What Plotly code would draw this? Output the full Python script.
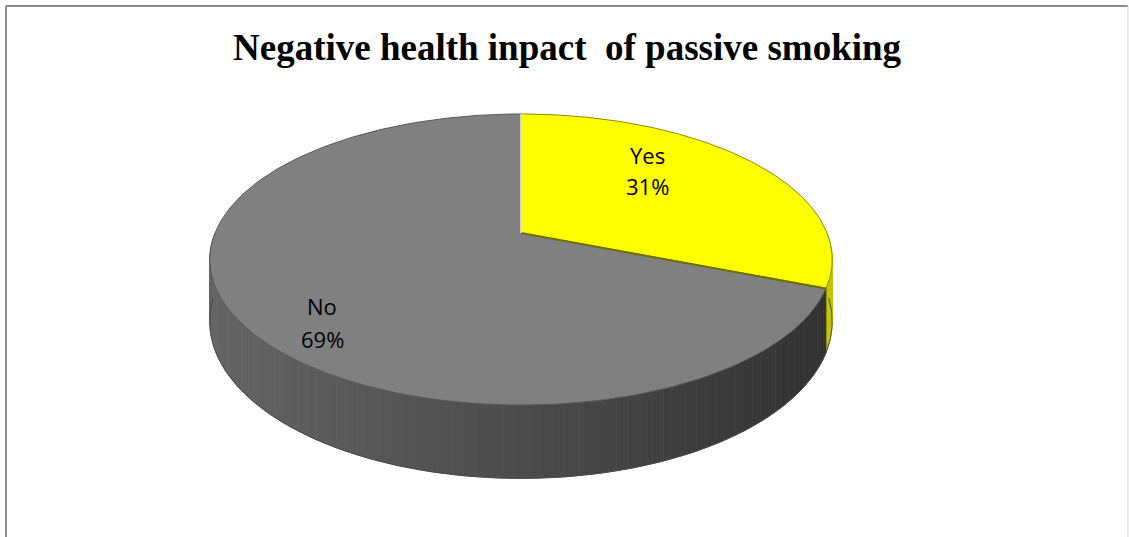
import numpy as np
import plotly.graph_objects as go

# ---- data ----
labels = ["Yes", "No"]
values = [31, 69]
top_colors = ["#ffff00", "#808080"]
title_text = "Negative health inpact  of passive smoking"

# ---- layout / projection constants (pixel-like axes) ----
W, H = 1129, 537
CX, CY = 521, 233            # projected pie centre
A, B, K = 306, 140.7, 0.182  # perspective ellipse parameters
DEPTH = 60
# (x, y of name line, y of percent line)
label_pos = [(647, 155, 186), (322, 306, 339)]


def proj(theta_deg, r=1.0):
    t = np.radians(theta_deg)
    u = r * np.sin(t)
    v = r * np.cos(t)
    w = 1 + K * v
    return CX + A * u / w, CY - B * v / w, w


def side_color(idx, x):
    if idx == 0:
        return "#c4c400"
    t = (x - (CX - A)) / (2 * A)
    t = min(max(t, 0), 1)
    g = int(round(100 - 50 * t))
    return f"rgb({g},{g},{g})"


total = sum(values)
bounds = [0.0]
for v in values:
    bounds.append(bounds[-1] + 360.0 * v / total)

fig = go.Figure()

# ---- side walls (front half only) ----
strips = []
for i in range(len(values)):
    a0, a1 = max(bounds[i], 90.0), min(bounds[i + 1], 270.0)
    if a1 <= a0:
        continue
    n = max(1, int(np.ceil((a1 - a0) / 2.0)))
    edges = np.linspace(a0, a1, n + 1)
    for j in range(n):
        strips.append((i, edges[j], edges[j + 1]))
strips.sort(key=lambda s: -abs((s[1] + s[2]) / 2 - 180))
for i, t1, t2 in strips:
    x1, y1, w1 = proj(t1)
    x2, y2, w2 = proj(t2)
    xs = [x1, x2, x2, x1, x1]
    ys = [y1, y2, y2 + DEPTH / w2, y1 + DEPTH / w1, y1]
    c = side_color(i, (x1 + x2) / 2)
    fig.add_trace(go.Scatter(x=xs, y=ys, mode="lines", fill="toself",
                             fillcolor=c, line=dict(color=c, width=0.8),
                             hoverinfo="skip", showlegend=False))

# bottom rim outline
th = np.linspace(92, 268, 200)
bx, by = [], []
for t in th:
    x, y, w = proj(t)
    bx.append(x)
    by.append(y + DEPTH / w)
fig.add_trace(go.Scatter(x=bx, y=by, mode="lines",
                         line=dict(color="#4a4a4a", width=1),
                         hoverinfo="skip", showlegend=False))

# ---- top faces ----
outline = ["#8a8a00", "#5a5a5a"]
for i in range(len(values)):
    th = np.linspace(bounds[i], bounds[i + 1], 200)
    xs, ys = [CX], [CY]
    for t in th:
        x, y, _ = proj(t)
        xs.append(x)
        ys.append(y)
    xs.append(CX)
    ys.append(CY)
    fig.add_trace(go.Scatter(x=xs, y=ys, mode="lines", fill="toself",
                             fillcolor=top_colors[i],
                             line=dict(color=outline[i], width=1),
                             name=labels[i], hoverinfo="name",
                             showlegend=False))

# radius lines between slices
xe, ye, _ = proj(bounds[1])
fig.add_trace(go.Scatter(x=[CX, xe], y=[CY, ye], mode="lines",
                         line=dict(color="#6e6e00", width=2),
                         hoverinfo="skip", showlegend=False))
xt, yt, _ = proj(0)
fig.add_trace(go.Scatter(x=[CX, xt], y=[CY, yt], mode="lines",
                         line=dict(color="#f4f4f4", width=1.5),
                         hoverinfo="skip", showlegend=False))

# ---- labels ----
lab_font = dict(family="Open Sans", size=22, color="#000000")
for i in range(len(values)):
    pct = round(100.0 * values[i] / total)
    lx, ly1, ly2 = label_pos[i]
    fig.add_annotation(x=lx, y=ly1, xref="x", yref="y", text=labels[i],
                       showarrow=False, font=lab_font)
    fig.add_annotation(x=lx, y=ly2, xref="x", yref="y", text=f"{pct}%",
                       showarrow=False, font=lab_font)

fig.add_annotation(x=567, y=47, xref="x", yref="y", text=f"<b>{title_text}</b>",
                   showarrow=False,
                   font=dict(family="Liberation Serif", size=37, color="#000000"))

# chart frame
fig.add_shape(type="line", xref="x", yref="y", x0=6, y0=6, x1=1128, y1=6,
              line=dict(color="#8c8c8c", width=2), layer="below")
fig.add_shape(type="line", xref="x", yref="y", x0=6, y0=6, x1=6, y1=H,
              line=dict(color="#8c8c8c", width=2), layer="below")
fig.add_shape(type="line", xref="x", yref="y", x0=1128, y0=6, x1=1128, y1=H,
              line=dict(color="#d9d9d9", width=1), layer="below")

fig.update_layout(
    width=W, height=H,
    margin=dict(l=0, r=0, t=0, b=0),
    paper_bgcolor="#ffffff", plot_bgcolor="#ffffff",
    xaxis=dict(range=[0, W], visible=False, fixedrange=True),
    yaxis=dict(range=[H, 0], visible=False, fixedrange=True),
    showlegend=False,
)

fig.write_html(
    "out.html",
    config={"displayModeBar": False},
    post_script="document.body.style.margin='0';document.body.style.padding='0';"
                "document.body.style.overflow='hidden';",
)
